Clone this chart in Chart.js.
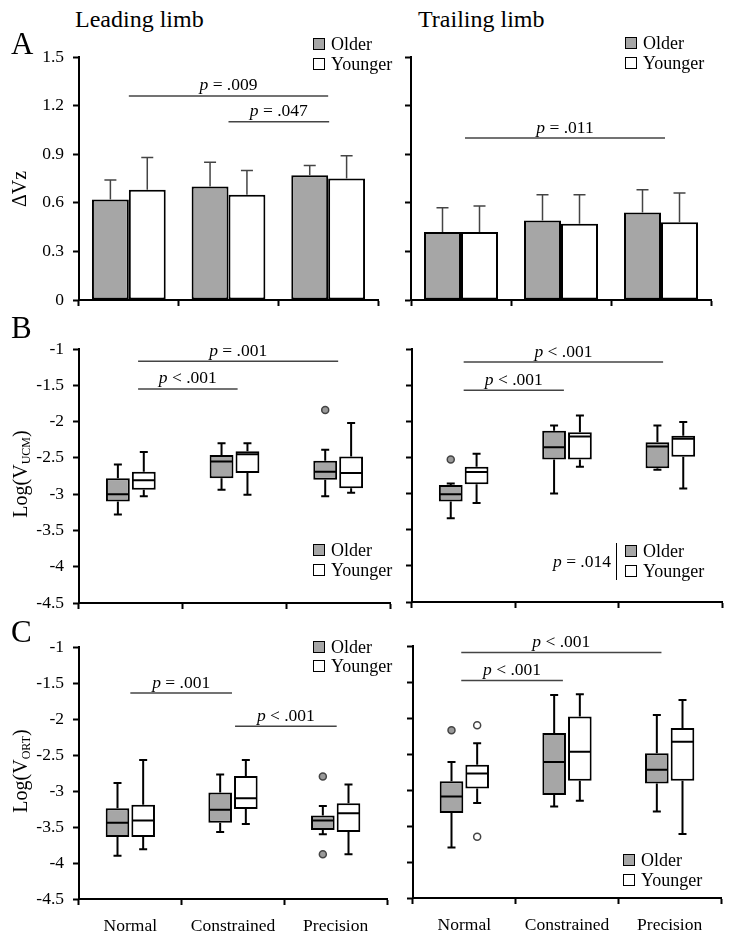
<!DOCTYPE html>
<html>
<head>
<meta charset="utf-8">
<script src="https://cdn.jsdelivr.net/npm/chart.js@4.4.1/dist/chart.umd.min.js"></script>
<style>
  body { margin: 0; background: #fff; }
  #fig { position: relative; width: 738px; height: 940px; overflow: hidden; background: #fff;
         font-family: "Liberation Serif", "Times New Roman", serif; color: #000; }
  #fig canvas { position: absolute; }
  .t { position: absolute; white-space: nowrap; line-height: 1; }
  .lg { position: absolute; display: flex; align-items: center; font-size: 18px; line-height: 1;
        white-space: nowrap; transform: translateY(-50%); }
  .lg b { display: inline-block; width: 12px; height: 12px; box-sizing: border-box;
          border: 1.5px solid #000; margin-right: 6px; }
  .yt { position: absolute; white-space: nowrap; line-height: 1; font-size: 20px;
        transform: translate(-50%, -50%) rotate(-90deg); }
  .yt span { font-size: 12px; position: relative; top: 3px; }
</style>
</head>
<body>
<div id="fig"></div>
<script>
const categories = ['Normal', 'Constrained', 'Precision'];

// A: delta Vz, mean and SD
const leadOlderMean = [0.62, 0.70, 0.77];
const leadOlderSD = [0.12, 0.15, 0.06];
const leadYoungerMean = [0.68, 0.65, 0.75];
const leadYoungerSD = [0.20, 0.15, 0.14];
const trailOlderMean = [0.42, 0.49, 0.54];
const trailOlderSD = [0.15, 0.16, 0.14];
const trailYoungerMean = [0.42, 0.47, 0.48];
const trailYoungerSD = [0.16, 0.18, 0.18];

// B: Log(V_UCM), each box is [min, q1, median, q3, max]
const ucmLeadOlder = [[-3.28, -3.10, -3.00, -2.78, -2.59], [-2.94, -2.78, -2.55, -2.46, -2.30], [-3.03, -2.80, -2.69, -2.54, -2.39]];
const ucmLeadYounger = [[-3.03, -2.94, -2.81, -2.69, -2.42], [-3.01, -2.71, -2.45, -2.41, -2.30], [-2.98, -2.92, -2.71, -2.48, -2.02]];
const ucmLeadOlderOut = [[], [], [-1.84]];
const ucmLeadYoungerOut = [[], [], []];
const ucmTrailOlder = [[-3.34, -3.11, -3.01, -2.88, -2.86], [-3.00, -2.53, -2.36, -2.13, -2.06], [-2.67, -2.65, -2.35, -2.29, -2.06]];
const ucmTrailYounger = [[-3.13, -2.87, -2.70, -2.63, -2.45], [-2.63, -2.53, -2.21, -2.15, -1.92], [-2.93, -2.49, -2.24, -2.20, -2.01]];
const ucmTrailOlderOut = [[-2.53], [], []];
const ucmTrailYoungerOut = [[], [], []];

// C: Log(V_ORT)
const ortLeadOlder = [[-3.90, -3.64, -3.44, -3.24, -2.89], [-3.57, -3.44, -3.26, -3.02, -2.77], [-3.60, -3.54, -3.41, -3.34, -3.21]];
const ortLeadYounger = [[-3.81, -3.64, -3.41, -3.19, -2.57], [-3.46, -3.25, -3.10, -2.79, -2.57], [-3.88, -3.57, -3.31, -3.17, -2.91]];
const ortLeadOlderOut = [[], [], [-2.80, -3.88]];
const ortLeadYoungerOut = [[], [], []];
const ortTrailOlder = [[-3.80, -3.32, -3.09, -2.88, -2.61], [-3.23, -3.07, -2.61, -2.21, -1.68], [-3.30, -2.91, -2.72, -2.49, -1.96]];
const ortTrailYounger = [[-3.18, -2.98, -2.77, -2.65, -2.35], [-3.15, -2.87, -2.47, -1.98, -1.67], [-3.61, -2.87, -2.33, -2.14, -1.75]];
const ortTrailOlderOut = [[-2.17], [], []];
const ortTrailYoungerOut = [[-2.10, -3.65], [], []];

// significance bars: [from category, to category, y value, text after "p"]
const sigLeadA = [[0, 2, 1.26, '= .009'], [1, 2.01, 1.10, '= .047']];
const sigTrailA = [[0.04, 2.04, 1.0, '= .011']];
const sigLeadB = [[0.07, 2, -1.17, '= .001'], [0.07, 1.03, -1.55, '< .001']];
const sigTrailB = [[0, 1.93, -1.18, '< .001'], [0, 0.97, -1.57, '< .001']];
const sigLeadC = [[0, 0.99, -1.64, '= .001'], [1.02, 2.01, -2.10, '< .001']];
const sigTrailC = [[-0.03, 1.92, -1.09, '< .001'], [-0.03, 0.96, -1.48, '< .001']];

const dvzTicks = [0, 0.3, 0.6, 0.9, 1.2, 1.5];
const logTicks = [-4.5, -4, -3.5, -3, -2.5, -2, -1.5, -1];

const GRAY = '#a6a6a6';
const FONT = '"Liberation Serif", "Times New Roman", serif';
const fig = document.getElementById('fig');

function errorBars(means, sds) {
    return {
        id: 'errorBars',
        afterDatasetsDraw(chart) {
            const ctx = chart.ctx, y = chart.scales.y;
            ctx.save();
            ctx.strokeStyle = '#444';
            ctx.lineWidth = 1.5;
            means.forEach((m, di) => {
                chart.getDatasetMeta(di).data.forEach((bar, i) => {
                    const top = y.getPixelForValue(m[i] + sds[di][i]);
                    ctx.beginPath();
                    ctx.moveTo(bar.x, bar.y);
                    ctx.lineTo(bar.x, top);
                    ctx.moveTo(bar.x - 6, top);
                    ctx.lineTo(bar.x + 6, top);
                    ctx.stroke();
                });
            });
            ctx.restore();
        }
    };
}

function whiskers(stats, outs) {
    return {
        id: 'whiskers',
        afterDatasetsDraw(chart) {
            const ctx = chart.ctx, y = chart.scales.y;
            ctx.save();
            stats.forEach((series, di) => {
                chart.getDatasetMeta(di).data.forEach((bar, i) => {
                    const [lo, q1, med, q3, hi] = series[i];
                    const x = bar.x, hw = bar.width / 2;
                    const pLo = y.getPixelForValue(lo), pHi = y.getPixelForValue(hi);
                    ctx.strokeStyle = '#000';
                    ctx.lineWidth = 2;
                    ctx.beginPath();
                    ctx.moveTo(x, y.getPixelForValue(q3));
                    ctx.lineTo(x, pHi);
                    ctx.moveTo(x - 4, pHi);
                    ctx.lineTo(x + 4, pHi);
                    ctx.moveTo(x, y.getPixelForValue(q1));
                    ctx.lineTo(x, pLo);
                    ctx.moveTo(x - 4, pLo);
                    ctx.lineTo(x + 4, pLo);
                    ctx.moveTo(x - hw + 1, y.getPixelForValue(med));
                    ctx.lineTo(x + hw - 1, y.getPixelForValue(med));
                    ctx.stroke();
                    outs[di][i].forEach(v => {
                        ctx.beginPath();
                        ctx.arc(x, y.getPixelForValue(v), 3.5, 0, 2 * Math.PI);
                        ctx.fillStyle = di ? '#fff' : '#999';
                        ctx.fill();
                        ctx.lineWidth = 1.5;
                        ctx.strokeStyle = '#444';
                        ctx.stroke();
                    });
                });
            });
            ctx.restore();
        }
    };
}

function brackets(list) {
    return {
        id: 'brackets',
        afterDraw(chart) {
            const ctx = chart.ctx, xs = chart.scales.x, y = chart.scales.y;
            const it = 'italic 17.5px ' + FONT, rm = '17.5px ' + FONT;
            ctx.save();
            list.forEach(([from, to, v, txt]) => {
                const x1 = xs.getPixelForValue(from), x2 = xs.getPixelForValue(to);
                const yy = y.getPixelForValue(v);
                ctx.strokeStyle = '#444';
                ctx.lineWidth = 1.5;
                ctx.beginPath();
                ctx.moveTo(x1, yy);
                ctx.lineTo(x2, yy);
                ctx.stroke();
                ctx.fillStyle = '#000';
                ctx.textBaseline = 'alphabetic';
                ctx.font = it;
                const w1 = ctx.measureText('p').width;
                ctx.font = rm;
                const w2 = ctx.measureText(' ' + txt).width;
                const sx = (x1 + x2) / 2 - (w1 + w2) / 2, by = yy - 5.5;
                ctx.font = it;
                ctx.fillText('p', sx, by);
                ctx.font = rm;
                ctx.fillText(' ' + txt, sx + w1, by);
            });
            ctx.restore();
        }
    };
}

// area = [left, top, right, bottom] of the plot area on the page
function makePanel(area, o) {
    const [L, T, R, B] = area;
    const yW = o.labels ? L - 30 : 10;
    const xH = o.cats ? 40 : 12;
    const padTop = 20, padRight = 10;
    const cv = document.createElement('canvas');
    cv.width = yW + (R - L) + padRight;
    cv.height = padTop + (B - T) + xH;
    cv.style.left = (L - yW) + 'px';
    cv.style.top = (T - padTop) + 'px';
    fig.appendChild(cv);
    const axisFont = {family: FONT, size: 17.5};
    return new Chart(cv, {
        type: 'bar',
        data: {labels: categories, datasets: o.datasets},
        options: {
            responsive: false,
            animation: false,
            layout: {padding: {top: padTop, right: padRight, left: 0, bottom: 0}},
            plugins: {legend: {display: false}, tooltip: {enabled: false}},
            datasets: {
                bar: {
                    categoryPercentage: o.catPct,
                    barPercentage: o.barPct,
                    borderColor: '#000',
                    borderWidth: 2,
                    borderSkipped: false
                }
            },
            scales: {
                x: {
                    offset: true,
                    grid: {offset: true, drawOnChartArea: false, tickLength: 6, tickWidth: 2, tickColor: '#000'},
                    border: {color: '#000', width: 2},
                    ticks: {display: o.cats, color: '#000', font: axisFont, padding: 11, maxRotation: 0, autoSkip: false},
                    afterFit: s => { s.height = xH; s.paddingLeft = 0; s.paddingRight = 0; }
                },
                y: {
                    min: o.ticks[0],
                    max: o.ticks[o.ticks.length - 1],
                    afterBuildTicks: s => { s.ticks = o.ticks.map(v => ({value: v})); },
                    grid: {drawOnChartArea: false, tickLength: 6, tickWidth: 2, tickColor: '#000'},
                    border: {color: '#000', width: 2},
                    ticks: {display: o.labels, color: '#000', font: axisFont, padding: 9, callback: v => String(v)},
                    afterFit: s => { s.width = yW; s.paddingTop = 0; s.paddingBottom = 0; }
                }
            }
        },
        plugins: o.plugins
    });
}

function barPanel(area, labels, olderMean, olderSD, youngerMean, youngerSD, sig) {
    return makePanel(area, {
        labels: labels, cats: false, ticks: dvzTicks, catPct: 0.74, barPct: 1,
        datasets: [
            {label: 'Older', data: olderMean, backgroundColor: GRAY},
            {label: 'Younger', data: youngerMean, backgroundColor: '#fff'}
        ],
        plugins: [errorBars([olderMean, youngerMean], [olderSD, youngerSD]), brackets(sig)]
    });
}

function boxPanel(area, labels, cats, older, younger, olderOut, youngerOut, sig) {
    return makePanel(area, {
        labels: labels, cats: cats, ticks: logTicks, catPct: 0.5, barPct: 0.92,
        datasets: [
            {label: 'Older', data: older.map(s => [s[1], s[3]]), backgroundColor: GRAY},
            {label: 'Younger', data: younger.map(s => [s[1], s[3]]), backgroundColor: '#fff'}
        ],
        plugins: [whiskers([older, younger], [olderOut, youngerOut]), brackets(sig)]
    });
}

barPanel([79, 57, 378, 300], true, leadOlderMean, leadOlderSD, leadYoungerMean, leadYoungerSD, sigLeadA);
barPanel([411, 57, 711, 300], false, trailOlderMean, trailOlderSD, trailYoungerMean, trailYoungerSD, sigTrailA);
boxPanel([79, 349, 390, 603], true, false, ucmLeadOlder, ucmLeadYounger, ucmLeadOlderOut, ucmLeadYoungerOut, sigLeadB);
boxPanel([412, 349, 722, 602], false, false, ucmTrailOlder, ucmTrailYounger, ucmTrailOlderOut, ucmTrailYoungerOut, sigTrailB);
boxPanel([79, 647, 387, 899], true, true, ortLeadOlder, ortLeadYounger, ortLeadOlderOut, ortLeadYoungerOut, sigLeadC);
boxPanel([413, 646, 721, 898], false, true, ortTrailOlder, ortTrailYounger, ortTrailOlderOut, ortTrailYoungerOut, sigTrailC);

// text around the charts
function text(html, x, y, size, cls) {
    const d = document.createElement('div');
    d.className = cls || 't';
    d.innerHTML = html;
    d.style.left = x + 'px';
    d.style.top = y + 'px';
    if (size) d.style.fontSize = size + 'px';
    if (!cls) d.style.transform = 'translateY(-50%)';
    fig.appendChild(d);
    return d;
}

function legend(x, y1, y2) {
    text('<b style="background:' + GRAY + '"></b>Older', x, y1, 0, 'lg');
    text('<b style="background:#fff"></b>Younger', x, y2, 0, 'lg');
}

text('Leading limb', 75, 19, 24);
text('Trailing limb', 418, 19, 24);
text('A', 11, 43, 31);
text('B', 11, 327, 31);
text('C', 11, 631, 31);
text('&Delta;Vz', 19, 189, 0, 'yt');
text('Log(V<span>UCM</span>)', 20, 474, 0, 'yt');
text('Log(V<span>ORT</span>)', 20, 771, 0, 'yt');

legend(313, 44, 64);
legend(625, 43, 63);
legend(313, 550, 570);
legend(625, 551, 571);
legend(313, 647, 666);
legend(623, 860, 880);

const p014 = text('<i>p</i> = .014', 611, 562, 17.5);
p014.style.transform = 'translate(-100%, -50%)';
const bar014 = document.createElement('div');
bar014.style.cssText = 'position:absolute;left:615.5px;top:543px;width:1.5px;height:37px;background:#000;';
fig.appendChild(bar014);
</script>
</body>
</html>
